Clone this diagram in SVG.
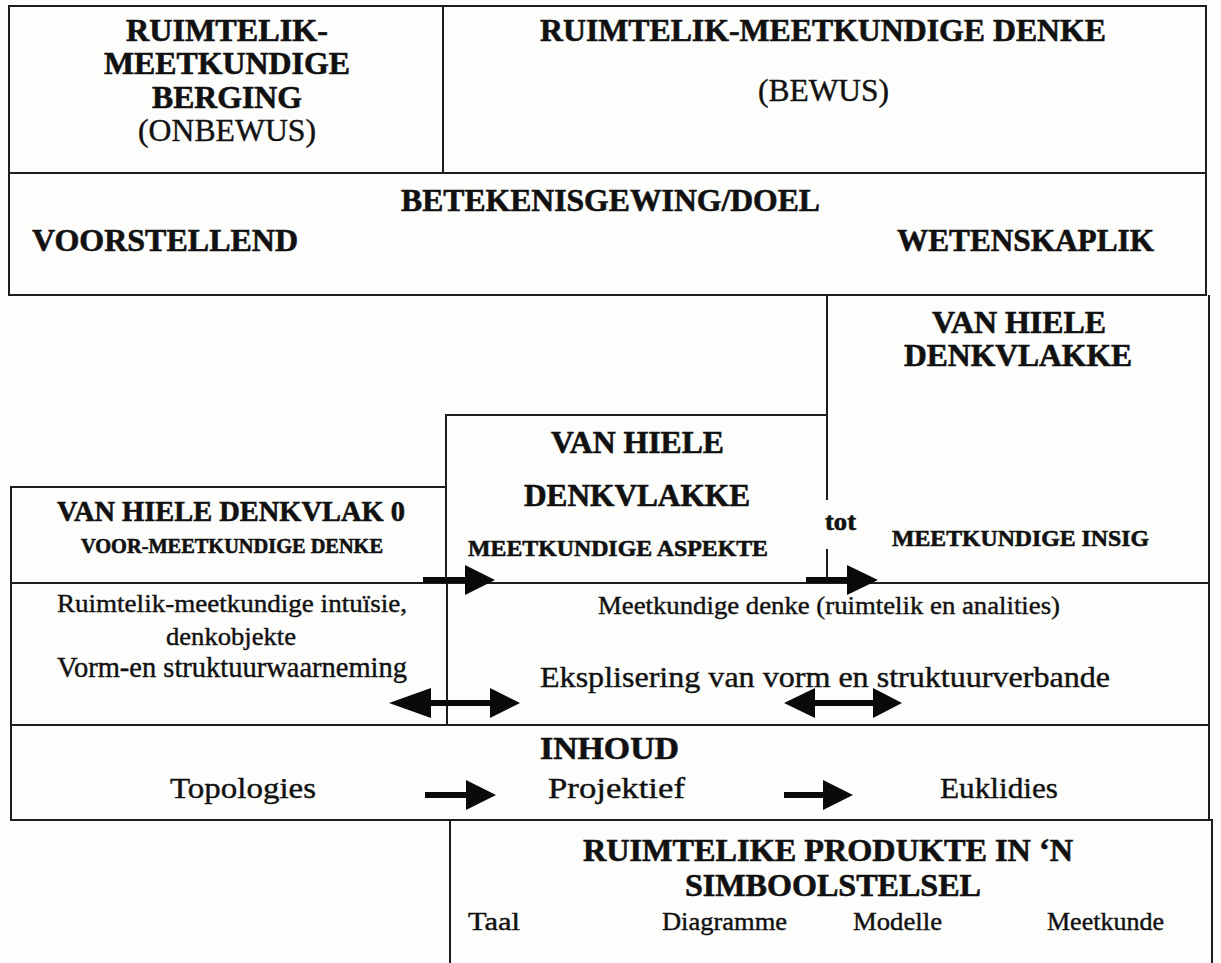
<svg xmlns="http://www.w3.org/2000/svg" width="1221" height="963" viewBox="0 0 1221 963">
<style>
text{font-family:"Liberation Serif","Times New Roman",serif;fill:#111;stroke:#111;stroke-width:0.4}
.b{font-weight:bold;stroke-width:0.6}
.ln{fill:none;stroke:#1e1e1e;stroke-width:2}
.ar{fill:#0a0a0a;stroke:none}
</style>
<rect width="1221" height="963" fill="#fdfdfb"/>
<g id="berging">
<rect class="ln" x="9" y="6" width="434" height="167"/>
<text class="b" x="126" y="41" font-size="32" textLength="202" lengthAdjust="spacingAndGlyphs">RUIMTELIK-</text>
<text class="b" x="104" y="74" font-size="32" textLength="246" lengthAdjust="spacingAndGlyphs">MEETKUNDIGE</text>
<text class="b" x="152" y="108" font-size="32" textLength="150" lengthAdjust="spacingAndGlyphs">BERGING</text>
<text x="138" y="141" font-size="31" textLength="178" lengthAdjust="spacingAndGlyphs">(ONBEWUS)</text>
</g>
<g id="denke">
<rect class="ln" x="443" y="6" width="763" height="167"/>
<text class="b" x="540" y="41" font-size="32" textLength="566" lengthAdjust="spacingAndGlyphs">RUIMTELIK-MEETKUNDIGE DENKE</text>
<text x="758" y="101" font-size="31" textLength="131" lengthAdjust="spacingAndGlyphs">(BEWUS)</text>
</g>
<g id="betekenisgewing">
<rect class="ln" x="9" y="173" width="1197" height="122"/>
<text class="b" x="401" y="211" font-size="32" textLength="419" lengthAdjust="spacingAndGlyphs">BETEKENISGEWING/DOEL</text>
<text class="b" x="32" y="251" font-size="32" textLength="266" lengthAdjust="spacingAndGlyphs">VOORSTELLEND</text>
<text class="b" x="897" y="251" font-size="32" textLength="257" lengthAdjust="spacingAndGlyphs">WETENSKAPLIK</text>
</g>
<g id="vanhiele-insig">
<path class="ln" d="M827 500 V295 M1209 295 V583"/>
<path class="ln" d="M827 549 V583"/>
<text class="b" x="932" y="333" font-size="31" textLength="174" lengthAdjust="spacingAndGlyphs">VAN HIELE</text>
<text class="b" x="904" y="366" font-size="31" textLength="228" lengthAdjust="spacingAndGlyphs">DENKVLAKKE</text>
<text class="b" x="825" y="530" font-size="25" textLength="31" lengthAdjust="spacingAndGlyphs">tot</text>
<text class="b" x="892" y="546" font-size="23.5" textLength="257" lengthAdjust="spacingAndGlyphs">MEETKUNDIGE INSIG</text>
</g>
<g id="vanhiele-aspekte">
<path class="ln" d="M446 583 V415 H827"/>
<text class="b" x="551" y="453" font-size="31" textLength="173" lengthAdjust="spacingAndGlyphs">VAN HIELE</text>
<text class="b" x="524" y="506" font-size="31" textLength="226" lengthAdjust="spacingAndGlyphs">DENKVLAKKE</text>
<text class="b" x="468" y="556" font-size="23.5" textLength="300" lengthAdjust="spacingAndGlyphs">MEETKUNDIGE ASPEKTE</text>
</g>
<g id="vanhiele-0">
<path class="ln" d="M11 583 V487 H446"/>
<text class="b" x="57" y="521" font-size="29" textLength="348" lengthAdjust="spacingAndGlyphs">VAN HIELE DENKVLAK 0</text>
<text class="b" x="81" y="553" font-size="21" textLength="302" lengthAdjust="spacingAndGlyphs">VOOR-MEETKUNDIGE DENKE</text>
</g>
<g id="intuisie">
<rect class="ln" x="11" y="583" width="436" height="142"/>
<text x="57" y="612" font-size="25" textLength="350" lengthAdjust="spacingAndGlyphs">Ruimtelik-meetkundige intuïsie,</text>
<text x="166" y="645" font-size="25" textLength="130" lengthAdjust="spacingAndGlyphs">denkobjekte</text>
<text x="57" y="677" font-size="29" textLength="350" lengthAdjust="spacingAndGlyphs">Vorm-en struktuurwaarneming</text>
</g>
<g id="meetkundige-denke">
<rect class="ln" x="447" y="583" width="762" height="142"/>
<text x="598" y="614" font-size="25" textLength="462" lengthAdjust="spacingAndGlyphs">Meetkundige denke (ruimtelik en analities)</text>
<text x="540" y="687" font-size="30" textLength="570" lengthAdjust="spacingAndGlyphs">Eksplisering van vorm en struktuurverbande</text>
</g>
<g id="inhoud">
<rect class="ln" x="11" y="725" width="1198" height="95"/>
<text class="b" x="540" y="759" font-size="31" textLength="139" lengthAdjust="spacingAndGlyphs">INHOUD</text>
<text x="170" y="798" font-size="30" textLength="146" lengthAdjust="spacingAndGlyphs">Topologies</text>
<text x="548" y="798" font-size="30" textLength="137" lengthAdjust="spacingAndGlyphs">Projektief</text>
<text x="940" y="798" font-size="30" textLength="118" lengthAdjust="spacingAndGlyphs">Euklidies</text>
</g>
<g id="produkte">
<path class="ln" d="M450 970 V820 H1212 V970"/>
<text class="b" x="583" y="861" font-size="31" textLength="490" lengthAdjust="spacingAndGlyphs">RUIMTELIKE PRODUKTE IN ‘N</text>
<text class="b" x="685" y="896" font-size="31" textLength="296" lengthAdjust="spacingAndGlyphs">SIMBOOLSTELSEL</text>
<text x="468" y="930" font-size="25" textLength="52" lengthAdjust="spacingAndGlyphs">Taal</text>
<text x="662" y="930" font-size="25" textLength="125" lengthAdjust="spacingAndGlyphs">Diagramme</text>
<text x="853" y="930" font-size="25" textLength="89" lengthAdjust="spacingAndGlyphs">Modelle</text>
<text x="1047" y="930" font-size="25" textLength="117" lengthAdjust="spacingAndGlyphs">Meetkunde</text>
</g>
<g id="connectors">
<path class="ar" d="M423 577 H465 V565 L495 580 L465 595 V583 H423 Z"/>
<path class="ar" d="M806 577 H847 V565 L878 580 L847 595 V583 H806 Z"/>
<path class="ar" d="M389 703 L431 688 V700 H490 V688 L520 703 L490 718 V706 H431 V718 Z"/>
<path class="ar" d="M784 703 L815 688 V700 H873 V688 L902 703 L873 718 V706 H815 V718 Z"/>
<path class="ar" d="M425 792 H466 V780 L496 795 L466 810 V798 H425 Z"/>
<path class="ar" d="M784 792 H823 V780 L853 795 L823 810 V798 H784 Z"/>
</g>
</svg>
